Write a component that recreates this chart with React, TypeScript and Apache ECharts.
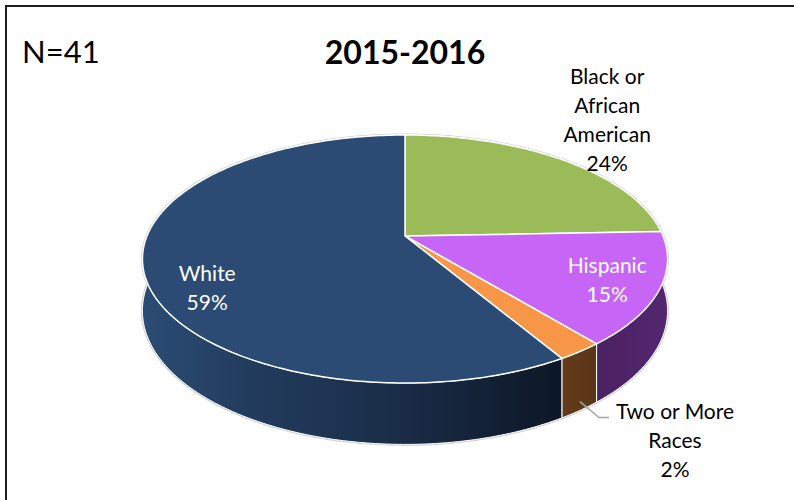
import React, { useEffect, useRef } from 'react';
import * as echarts from 'echarts';

// ---- data ----
const categories = ['Black or African American', 'Hispanic', 'Two or More Races', 'White'];
const labelTexts = ['Black or\nAfrican\nAmerican', 'Hispanic', 'Two or More\nRaces', 'White'];
const counts = [10, 6, 1, 24];
const titleText = '2015-2016';
const nText = 'N=41';

// ---- styles ----
const topColors = ['#9BBB59', '#C765F7', '#F79646', '#2B4B74'];
const sideStops = [
  [[0, '#5E7535'], [1, '#5E7535']],
  [[0, '#4A2161'], [1, '#532770']],
  [[0, '#633B1A'], [1, '#5A3517']],
  [[0, '#2C4C74'], [0.25, '#223C5E'], [0.6, '#1A2D48'], [1, '#0D1726']],
];
const labelColors = ['#000000', '#FFFFFF', '#000000', '#FFFFFF'];
const FONT = 'Lato, "Open Sans", sans-serif';

// ---- geometry (perspective view of the disc) ----
const CX = 405, CY = 236, A = 258, B = 119.74, K = 0.1855, H = 50;

const pt = (deg: number, r: number, drop: number): number[] => {
  const t = (deg * Math.PI) / 180;
  const u = r * Math.sin(t);
  const v = -r * Math.cos(t);
  const den = 1 - K * v;
  return [CX + (A * u) / den, CY + (B * v + drop) / den];
};

const arc = (s: number, e: number, drop: number) => {
  const out: number[][] = [];
  for (let d = s; d < e; d += 1) out.push(pt(d, 1, drop));
  out.push(pt(e, 1, drop));
  return out;
};

const renderItem = (params: any, api: any) => {
  const i = params.dataIndex;
  const total = counts.reduce((a, b) => a + b, 0);
  let before = 0;
  for (let j = 0; j < i; j++) before += counts[j];
  const val = api.value(1);
  const start = (before / total) * 360;
  const end = ((before + val) / total) * 360;
  const mid = (start + end) / 2;
  const topArc = arc(start, end, 0);
  const botArc = arc(start, end, H);
  const pct = Math.round((val / total) * 100) + '%';
  const children: any[] = [
    { type: 'polyline', shape: { points: topArc }, style: { stroke: '#D2D2D2', lineWidth: 3, fill: null }, z2: 0, silent: true },
    { type: 'polyline', shape: { points: botArc }, style: { stroke: '#D2D2D2', lineWidth: 3, fill: null }, z2: 0, silent: true },
    {
      type: 'polygon',
      shape: { points: [...topArc, ...botArc.slice().reverse()] },
      style: {
        fill: new echarts.graphic.LinearGradient(0, 0, 1, 0, sideStops[i].map((s: any) => ({ offset: s[0], color: s[1] }))),
        stroke: '#FFFFFF',
        lineWidth: 1,
      },
      z2: 1,
    },
    {
      type: 'polygon',
      shape: { points: [[CX, CY], ...topArc] },
      style: { fill: topColors[i], stroke: '#FFFFFF', lineWidth: 1.5, lineJoin: 'round' },
      z2: 2,
    },
  ];
  const text = labelTexts[i] + '\n' + pct;
  let lx = 0, ly = 0;
  if (i === 0) {
    const p = pt(mid, 1.3, 0);
    lx = p[0] + 4; ly = p[1] - 21;
  } else if (i === 1) {
    const p = pt(mid, 0.78, 0);
    lx = p[0] + 7; ly = p[1] + 2;
  } else if (i === 3) {
    const p = pt(mid, 0.78, 0);
    lx = p[0] + 4; ly = p[1] + 25;
  } else {
    const p0 = pt(mid, 1, H * 0.85);
    const p1 = [p0[0] + 19, p0[1] + 16];
    const p2 = [p1[0] + 10, p1[1]];
    children.push({
      type: 'polyline',
      shape: { points: [p0, p1, p2] },
      style: { stroke: '#A6A6A6', lineWidth: 1.5, fill: null },
      z2: 4,
    });
    lx = p2[0] + 66; ly = p2[1] + 22;
  }
  children.push({
    type: 'text',
    x: lx,
    y: ly,
    z2: 5,
    style: {
      text,
      fill: labelColors[i],
      fontSize: 21,
      fontFamily: FONT,
      lineHeight: 29,
      align: 'center',
      verticalAlign: 'middle',
    },
  });
  return { type: 'group', children };
};

export default function App() {
  const ref = useRef<HTMLDivElement>(null);
  useEffect(() => {
    if (!ref.current) return;
    const chart = echarts.init(ref.current, null, { renderer: 'svg' });
    chart.setOption({
      animation: false,
      backgroundColor: '#FFFFFF',
      graphic: [
        { type: 'rect', shape: { x: 6, y: 6, width: 800, height: 600 }, style: { fill: null, stroke: '#1E1E1E', lineWidth: 2 } },
        { type: 'text', x: 22, y: 51, style: { text: nText, fontSize: 31, fontFamily: FONT, fill: '#000', align: 'left', verticalAlign: 'middle' } },
        { type: 'text', x: 405, y: 51, style: { text: titleText, fontSize: 32, fontWeight: 'bold', fontFamily: FONT, fill: '#000', align: 'center', verticalAlign: 'middle' } },
      ],
      series: [
        {
          type: 'custom',
          name: 'Race',
          coordinateSystem: 'none',
          renderItem,
          data: counts.map((c, i) => ({ name: categories[i], value: [i, c] })),
        },
      ],
    });
    return () => chart.dispose();
  }, []);
  return <div ref={ref} style={{ position: 'fixed', left: 0, top: 0, width: 794, height: 500, background: '#fff' }} />;
}
